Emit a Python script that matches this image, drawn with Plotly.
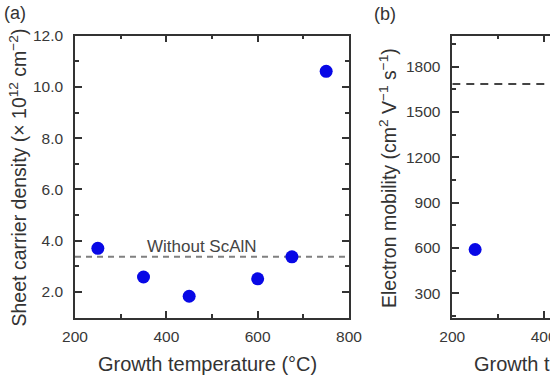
import plotly.graph_objects as go

# Panel (a): sheet carrier density vs growth temperature
temp_a = [250, 350, 450, 600, 675, 750]
density = [3.70, 2.58, 1.83, 2.51, 3.37, 10.61]
ref_density = 3.37  # without ScAlN

# Panel (b): electron mobility vs growth temperature
temp_b = [250]
mobility = [590]
ref_mobility = 1685  # without ScAlN

x_ref = [200, 800]

W, H = 550, 378
BLUE = "rgb(8,8,230)"
AX = "#333333"
FONT = "Liberation Sans, Arial, sans-serif"

def px(x):
    return x / W

def py(y):
    return 1 - y / H

fig = go.Figure()

fig.add_trace(go.Scatter(x=x_ref, y=[ref_density] * 2, mode="lines",
                         line=dict(color="#808080", width=2, dash="6px,5px"),
                         xaxis="x", yaxis="y", showlegend=False))
fig.add_trace(go.Scatter(x=temp_a, y=density, mode="markers",
                         marker=dict(color=BLUE, size=13),
                         xaxis="x", yaxis="y", showlegend=False))
fig.add_trace(go.Scatter(x=x_ref, y=[ref_mobility] * 2, mode="lines",
                         line=dict(color="#444444", width=2, dash="8px,6px"),
                         xaxis="x2", yaxis="y2", showlegend=False))
fig.add_trace(go.Scatter(x=temp_b, y=mobility, mode="markers",
                         marker=dict(color=BLUE, size=13),
                         xaxis="x2", yaxis="y2", showlegend=False))

ydom = [py(317.5), py(35.7)]
common = dict(showgrid=False, zeroline=False, showline=True, linecolor=AX, linewidth=1.5,
              ticks="inside", ticklen=7, tickwidth=1.5, tickcolor=AX, automargin=False,
              ticklabeloverflow="allow",
              tickfont=dict(family=FONT, size=15.5, color="#383838"))
minor_x = dict(dtick=100, ticks="inside", ticklen=4, tickwidth=1.5, tickcolor=AX, showgrid=False)

fig.update_layout(
    width=W, height=H, margin=dict(l=0, r=0, t=0, b=0, autoexpand=False),
    paper_bgcolor="white", plot_bgcolor="white",
    font=dict(family=FONT, color="#333333"),
    xaxis=dict(domain=[px(75), px(349)], range=[200, 800], tick0=200, dtick=200,
               mirror="allticks", minor=minor_x, anchor="y", ticklabelstandoff=4, **common),
    yaxis=dict(domain=ydom, range=[1, 12], tick0=2, dtick=2, tickformat=".1f",
               mirror="allticks", anchor="x", ticklabelstandoff=7,
               minor=dict(dtick=1, ticks="inside", ticklen=4, tickwidth=1.5, tickcolor=AX, showgrid=False),
               **common),
    xaxis2=dict(domain=[px(452.3), 1.0], range=[200, 414], tick0=200, dtick=200,
                mirror="allticks", minor=minor_x, anchor="y2", ticklabelstandoff=4, **common),
    yaxis2=dict(domain=ydom, range=[140, 2005], tick0=300, dtick=300,
                mirror=False, anchor="x2", ticklabelstandoff=7,
                minor=dict(dtick=150, ticks="inside", ticklen=4, tickwidth=1.5, tickcolor=AX, showgrid=False),
                **common),
)

ann = [
    dict(text="(a)", x=px(2), y=py(13), xanchor="left", yanchor="middle", font=dict(size=18)),
    dict(text="(b)", x=px(385), y=py(14), xanchor="center", yanchor="middle", font=dict(size=18)),
    dict(text="Without ScAlN", x=px(201.5), y=py(246.7), xanchor="center", yanchor="middle",
         font=dict(size=17, color="#444444")),
    dict(text="Growth temperature (°C)", x=px(207.5), y=py(364), xanchor="center", yanchor="middle",
         font=dict(size=20)),
    dict(text="Growth temperature (°C)", x=px(583), y=py(364), xanchor="center", yanchor="middle",
         font=dict(size=20)),
    dict(text="Sheet carrier density (× 10<sup>12</sup> cm<sup>−2</sup>)", x=px(17.5), y=py(178),
         xanchor="center", yanchor="middle", textangle=-90, font=dict(size=19.5)),
    dict(text="Electron mobility (cm<sup>2</sup> V<sup>−1</sup> s<sup>−1</sup>)", x=px(388), y=py(178),
         xanchor="center", yanchor="middle", textangle=-90, font=dict(size=19.5)),
]
for a in ann:
    a.update(xref="paper", yref="paper", showarrow=False)
    a.setdefault("font", {})
    a["font"].setdefault("color", "#333333")
    a["font"]["family"] = FONT
fig.update_layout(annotations=ann)

fig.write_html("out.html", config={"displayModeBar": False},
               post_script="document.body.style.margin='0px';")
